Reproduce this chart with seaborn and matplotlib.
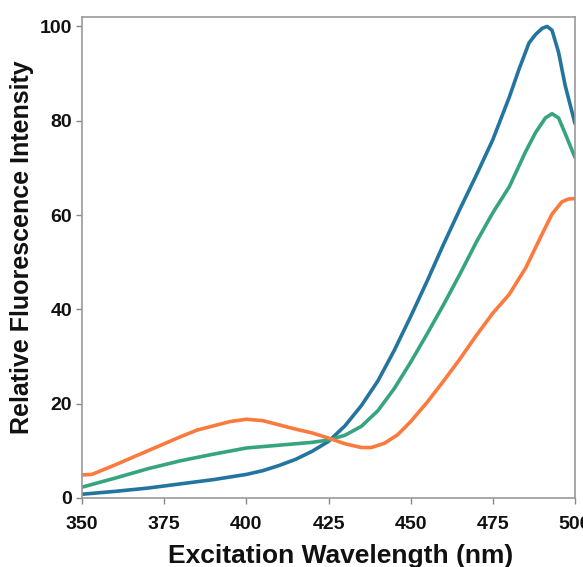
import numpy as np
import pandas as pd
import matplotlib.pyplot as plt
import seaborn as sns
from matplotlib.ticker import MultipleLocator

# excitation spectra
blue_x = [350, 360, 370, 380, 390, 400, 405, 410, 415, 420, 425, 430, 435, 440, 445, 450, 455, 460, 465, 470, 475, 480, 483, 486, 488, 490, 491.5, 493, 495, 497, 500]
blue_y = [0.8, 1.4, 2.1, 3.0, 3.9, 5.0, 5.8, 6.9, 8.2, 9.9, 12.0, 15.3, 19.6, 24.8, 31.3, 38.5, 46.0, 53.8, 61.3, 68.5, 76.0, 85.0, 91.0, 96.5, 98.3, 99.6, 100.0, 99.2, 94.5, 87.5, 79.4]

green_x = [350, 360, 370, 380, 390, 400, 410, 420, 425, 430, 435, 440, 445, 450, 455, 460, 465, 470, 475, 480, 485, 488, 491, 493, 495, 497, 500]
green_y = [2.3, 4.2, 6.2, 7.9, 9.3, 10.6, 11.2, 11.8, 12.3, 13.3, 15.2, 18.5, 23.2, 28.8, 34.8, 41.0, 47.5, 54.3, 60.5, 66.0, 73.5, 77.5, 80.6, 81.5, 80.6, 77.3, 72.2]

orange_x = [350, 353, 360, 370, 375, 380, 385, 390, 395, 400, 405, 410, 415, 420, 425, 430, 435, 438, 442, 446, 450, 455, 460, 465, 470, 475, 480, 485, 490, 493, 496, 498, 500]
orange_y = [4.9, 5.0, 7.0, 10.0, 11.5, 13.0, 14.4, 15.3, 16.2, 16.7, 16.4, 15.5, 14.6, 13.8, 12.7, 11.5, 10.7, 10.7, 11.6, 13.4, 16.2, 20.3, 24.8, 29.5, 34.5, 39.2, 43.2, 48.8, 56.0, 60.2, 62.8, 63.4, 63.5]

x_ticks = [350, 375, 400, 425, 450, 475, 500]
y_ticks = [0, 20, 40, 60, 80, 100]

df = pd.concat([
    pd.DataFrame({"wl": blue_x, "val": blue_y, "s": "blue"}),
    pd.DataFrame({"wl": green_x, "val": green_y, "s": "green"}),
    pd.DataFrame({"wl": orange_x, "val": orange_y, "s": "orange"}),
])

sns.set_style("white")
plt.rcParams["font.family"] = ["Liberation Sans", "DejaVu Sans"]
plt.rcParams["font.weight"] = "bold"

fig = plt.figure(figsize=(5.83, 5.67), dpi=100)
ax = fig.add_axes([0.1407, 0.1217, 0.8456, 0.8483])

pal = {"blue": "#23749f", "green": "#36a47f", "orange": "#fc7a3e"}
sns.lineplot(data=df, x="wl", y="val", hue="s", palette=pal, linewidth=2.6,
             legend=False, ax=ax, sort=True)
for ln in ax.lines:
    ln.set_solid_joinstyle("round")
    ln.set_solid_capstyle("round")

ax.set_xlim(350, 500)
ax.set_ylim(0, 102)
ax.set_xticks(x_ticks)
ax.set_yticks(y_ticks)
ax.xaxis.set_minor_locator(MultipleLocator(5))
ax.yaxis.set_minor_locator(MultipleLocator(10))
ax.tick_params(which="both", direction="out", color="#888888", labelsize=14,
               labelcolor="#111111")
ax.tick_params(which="major", length=4, width=1)
ax.tick_params(which="minor", length=2, width=1)
ax.tick_params(axis="x", pad=9)
ax.tick_params(axis="y", pad=3)
ax.tick_params(left=True, bottom=True)
for sp in ax.spines.values():
    sp.set_color("#999999")
    sp.set_linewidth(1.2)

ax.set_xlabel("Excitation Wavelength (nm)", fontsize=19, fontweight="bold", color="#111111")
ax.set_ylabel("Relative Fluorescence Intensity", fontsize=18, fontweight="bold", color="#111111")
ax.xaxis.set_label_coords(0.525, -0.095)
ax.yaxis.set_label_coords(-0.097, 0.522)

fig.savefig("out.png", dpi=100)
